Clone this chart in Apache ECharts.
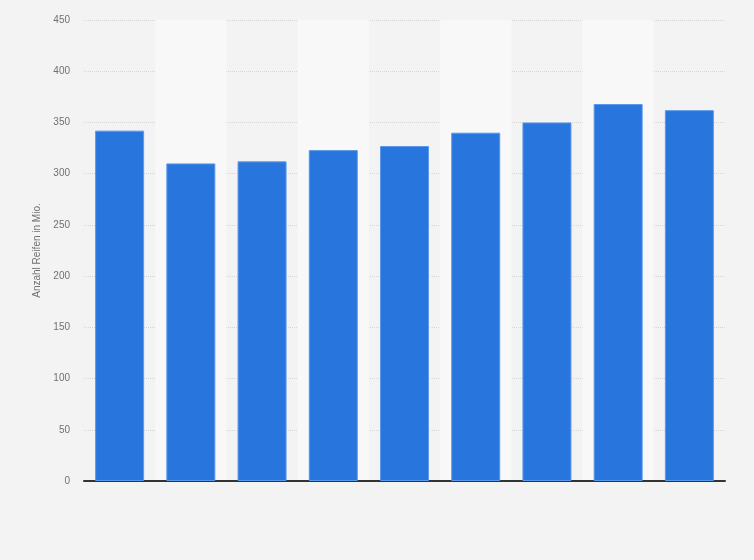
<!DOCTYPE html>
<html>
<head>
<meta charset="utf-8">
<script src="https://cdn.jsdelivr.net/npm/echarts@6/dist/echarts.min.js"></script>
<style>
  html, body { margin: 0; padding: 0; background: #f3f3f3; }
  #chart { width: 754px; height: 560px; }
</style>
</head>
<body>
<div id="chart"></div>
<script>
// Kategorien (keine Achsenbeschriftung im Original sichtbar)
var categories = ['2010', '2011', '2012', '2013', '2014', '2015', '2016', '2017', '2018'];
var values = [342, 310, 312, 323, 327, 340, 350, 368, 362];
var yTicks = [0, 50, 100, 150, 200, 250, 300, 350, 400, 450];

var option = {
    backgroundColor: '#f3f3f3',
    grid: {
        left: 84,
        right: 29,
        top: 20,
        bottom: 79
    },
    xAxis: {
        type: 'category',
        data: categories,
        boundaryGap: true,
        axisLine: { lineStyle: { color: '#333', width: 2 } },
        axisTick: { show: false },
        axisLabel: { show: false },
        splitArea: {
            show: true,
            areaStyle: { color: ['rgba(0,0,0,0)', '#f8f8f8'] }
        }
    },
    yAxis: {
        type: 'value',
        min: yTicks[0],
        max: yTicks[yTicks.length - 1],
        interval: 50,
        name: 'Anzahl Reifen in Mio.',
        nameLocation: 'middle',
        nameGap: 39,
        nameTextStyle: { color: '#707070', fontSize: 10, fontFamily: 'Arial, Liberation Sans, sans-serif' },
        axisLine: { show: false },
        axisTick: { show: false },
        axisLabel: { color: '#707070', fontSize: 10, margin: 14, fontFamily: 'Arial, Liberation Sans, sans-serif' },
        splitLine: { lineStyle: { color: '#d6d6d6', type: 'dotted', width: 1 } }
    },
    series: [
        {
            type: 'bar',
            data: values,
            barWidth: 49,
            itemStyle: {
                color: '#2876dd',
                borderColor: '#5b98ea',
                borderWidth: 1
            },
            z: 3
        }
    ]
};

var myChart = echarts.init(document.getElementById('chart'));
myChart.setOption(option);
</script>
</body>
</html>
